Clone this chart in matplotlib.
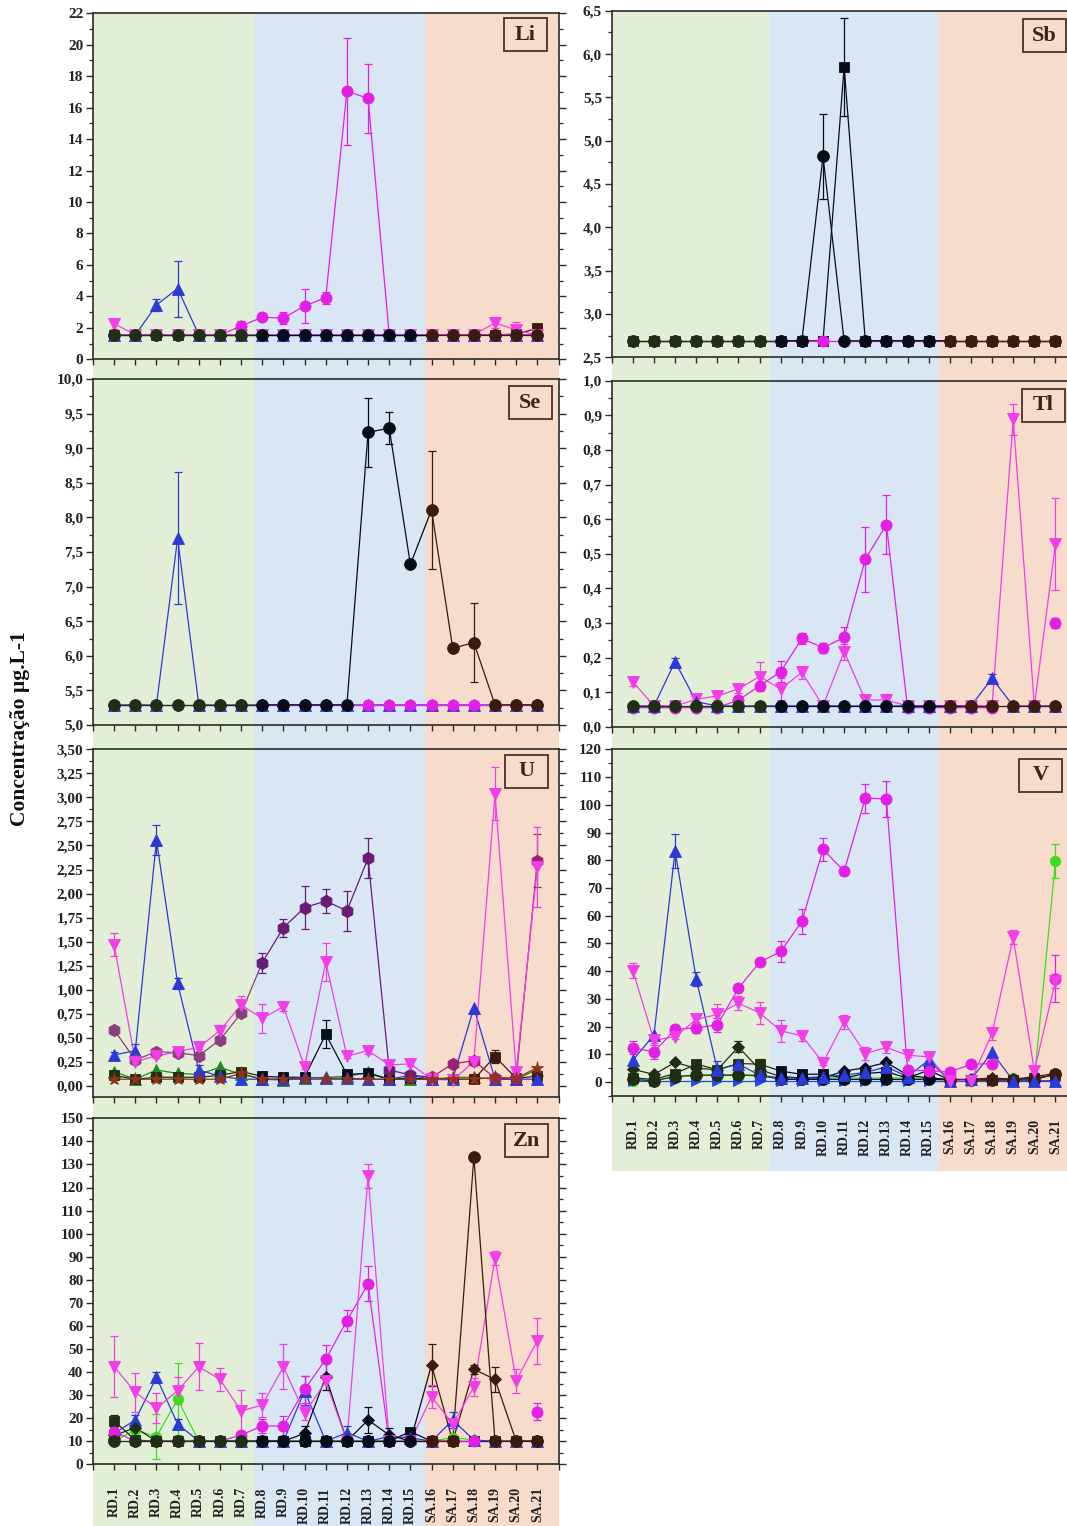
import numpy as np
import matplotlib
matplotlib.use("Agg")
import matplotlib.pyplot as plt
from matplotlib.patches import Rectangle
from matplotlib.ticker import MultipleLocator, AutoMinorLocator, FuncFormatter

plt.rcParams['font.family'] = ['Liberation Serif', 'DejaVu Serif']
plt.rcParams['font.weight'] = 'bold'
plt.rcParams['axes.labelweight'] = 'bold'

nan = np.nan

# ---------------------------------------------------------------- sites
SITES = ['RD.1', 'RD.2', 'RD.3', 'RD.4', 'RD.5', 'RD.6', 'RD.7',
         'RD.8', 'RD.9', 'RD.10', 'RD.11', 'RD.12', 'RD.13', 'RD.14', 'RD.15',
         'SA.16', 'SA.17', 'SA.18', 'SA.19', 'SA.20', 'SA.21']
Y_LABEL = 'Concentração µg.L-1'

# ---------------------------------------------------------------- Li
LI_SQUARE = [1.55, 1.55, 1.55, 1.55, 1.55, 1.55, 1.55, 1.55, 1.55, 1.55, 1.55,
             1.55, 1.55, 1.55, 1.55, 1.55, 1.55, 1.55, 1.55, 1.60, 1.97]
LI_TRI_UP = [1.55, 1.55, 3.45, 4.50, 1.55, 1.55, 1.55, 1.55, 1.55, 1.55, 1.55,
             1.55, 1.55, 1.55, 1.55, 1.55, 1.55, 1.55, 1.55, 1.55, 1.55]
LI_TRI_UP_ERR = [0, 0, 0.36, 1.78, 0, 0, 0, 0, 0, 0, 0,
                 0, 0, 0, 0, 0, 0, 0, 0, 0, 0]
LI_TRI_DOWN = [2.27, 1.55, 1.55, 1.55, 1.55, 1.55, 1.55, 1.55, 1.55, 1.55, 1.55,
               1.55, 1.55, 1.55, 1.55, 1.55, 1.55, 1.55, 2.32, 1.86, 1.55]
LI_TRI_DOWN_ERR = [0.37, 0, 0, 0, 0, 0, 0, 0, 0, 0, 0,
                   0, 0, 0, 0, 0, 0, 0, 0.35, 0.53, 0]
LI_MAG = [1.55, 1.55, 1.55, 1.55, 1.55, 1.55, 2.12, 2.67, 2.63, 3.39, 3.92,
          17.05, 16.59, 1.55, 1.55, 1.55, 1.55, 1.55, 1.55, 1.55, 1.55]
LI_MAG_ERR = [0, 0, 0, 0, 0, 0, 0.34, 0.12, 0.37, 1.06, 0.38,
              3.40, 2.17, 0, 0, 0, 0, 0, 0, 0, 0]
LI_DARK = [1.55, 1.55, 1.55, 1.55, 1.55, 1.55, 1.55, 1.55, 1.55, 1.55, 1.55,
           1.55, 1.55, 1.55, 1.55, 1.55, 1.55, 1.55, 1.55, 1.55, 1.55]

# ---------------------------------------------------------------- Sb
SB_SQUARE = [2.69, 2.69, 2.69, 2.69, 2.69, 2.69, 2.69, 2.69, 2.69, 2.69, 5.85,
             2.69, 2.69, 2.69, 2.69, 2.69, 2.69, 2.69, 2.69, 2.69, 2.69]
SB_SQUARE_ERR = [0, 0, 0, 0, 0, 0, 0, 0, 0, 0, 0.56,
                 0, 0, 0, 0, 0, 0, 0, 0, 0, 0]
SB_MAG = [2.69, 2.69, 2.69, 2.69, 2.69, 2.69, 2.69, 2.69, 2.69, 2.69, 2.69,
          2.69, 2.69, 2.69, 2.69, 2.69, 2.69, 2.69, 2.69, 2.69, 2.69]
SB_DARK = [2.69, 2.69, 2.69, 2.69, 2.69, 2.69, 2.69, 2.69, 2.69, 4.82, 2.69,
           2.69, 2.69, 2.69, 2.69, 2.69, 2.69, 2.69, 2.69, 2.69, 2.69]
SB_DARK_ERR = [0, 0, 0, 0, 0, 0, 0, 0, 0, 0.49, 0,
               0, 0, 0, 0, 0, 0, 0, 0, 0, 0]

# ---------------------------------------------------------------- Se
SE_TRI_UP = [5.29, 5.29, 5.29, 7.70, 5.29, 5.29, 5.29, 5.29, 5.29, 5.29, 5.29,
             5.29, 5.29, 5.29, 5.29, 5.29, 5.29, 5.29, 5.29, 5.29, 5.29]
SE_TRI_UP_ERR = [0, 0, 0, 0.95, 0, 0, 0, 0, 0, 0, 0,
                 0, 0, 0, 0, 0, 0, 0, 0, 0, 0]
SE_MAG = [5.29, 5.29, 5.29, 5.29, 5.29, 5.29, 5.29, 5.29, 5.29, 5.29, 5.29,
          5.29, 5.29, 5.29, 5.29, 5.29, 5.29, 5.29, 5.29, 5.29, 5.29]
SE_DARK = [5.29, 5.29, 5.29, 5.29, 5.29, 5.29, 5.29, 5.29, 5.29, 5.29, 5.29,
           5.29, 9.23, 9.29, 7.32, 8.11, 6.11, 6.19, 5.29, 5.29, 5.29]
SE_DARK_ERR = [0, 0, 0, 0, 0, 0, 0, 0, 0, 0, 0,
               0, 0.50, 0.23, 0, 0.85, 0, 0.57, 0, 0, 0]

# ---------------------------------------------------------------- Tl
TL_TRI_DOWN = [0.130, 0.060, 0.060, 0.079, 0.089, 0.109, 0.145, 0.109, 0.157, 0.060, 0.217,
               0.077, 0.077, 0.060, 0.060, 0.060, 0.060, 0.060, 0.889, 0.060, 0.528]
TL_TRI_DOWN_ERR = [0.012, 0, 0, 0.006, 0.012, 0.012, 0.041, 0.032, 0.018, 0, 0.023,
                   0.016, 0.018, 0, 0, 0, 0, 0, 0.045, 0, 0.134]
TL_MAG = [0.055, 0.055, 0.055, 0.055, 0.055, 0.077, 0.118, 0.159, 0.255, 0.228, 0.258,
          0.484, 0.584, 0.055, 0.055, 0.055, 0.055, 0.055, nan, nan, 0.300]
TL_MAG_ERR = [0, 0, 0, 0, 0, 0.012, 0.012, 0.030, 0.015, 0.015, 0.030,
              0.094, 0.086, 0, 0, 0, 0, 0, nan, nan, 0.015]
TL_TRI_UP = [0.060, 0.060, 0.188, 0.072, 0.060, 0.060, 0.060, 0.060, 0.060, 0.060, 0.060,
             0.060, 0.060, 0.060, 0.060, 0.060, 0.060, 0.140, 0.060, 0.060, 0.060]
TL_TRI_UP_ERR = [0, 0, 0.012, 0, 0, 0, 0, 0, 0, 0, 0,
                 0, 0, 0, 0, 0, 0, 0.013, 0, 0, 0]
TL_DARK = [0.060, 0.060, 0.060, 0.060, 0.060, 0.060, 0.060, 0.060, 0.060, 0.060, 0.060,
           0.060, 0.060, 0.060, 0.060, 0.060, 0.060, 0.060, 0.060, 0.060, 0.060]

# ---------------------------------------------------------------- U
U_GREEN_TRI = [0.149, 0.07, 0.166, 0.13, 0.12, 0.194, 0.12, 0.07, 0.06, 0.08, 0.09,
               0.10, 0.14, 0.07, 0.07, 0.07, 0.09, 0.09, 0.07, 0.07, 0.17]
U_SQUARE = [0.11, 0.07, 0.09, 0.09, 0.09, 0.11, 0.15, 0.10, 0.09, 0.09, 0.537,
            0.12, 0.13, 0.07, 0.08, 0.07, 0.07, 0.07, 0.305, 0.08, 0.10]
U_SQUARE_ERR = [0, 0, 0, 0, 0, 0, 0.02, 0, 0, 0, 0.145,
                0, 0, 0, 0, 0, 0, 0, 0.065, 0, 0]
U_TRI_UP = [0.322, 0.367, 2.557, 1.067, 0.166, 0.10, 0.07, 0.07, 0.07, 0.09, 0.08,
            0.08, 0.07, 0.07, 0.11, 0.07, 0.07, 0.814, 0.07, 0.07, 0.07]
U_TRI_UP_ERR = [0.03, 0.07, 0.155, 0.06, 0.05, 0, 0, 0, 0, 0, 0,
                0, 0, 0, 0, 0, 0, 0, 0, 0, 0]
U_HEX = [0.582, 0.270, 0.357, 0.345, 0.315, 0.478, 0.757, 1.282, 1.646, 1.854, 1.923,
         1.820, 2.367, 0.166, 0.114, 0.090, 0.229, 0.263, 0.080, 0.080, 2.342]
U_HEX_ERR = [0.03, 0.02, 0.03, 0.02, 0.02, 0.02, 0.03, 0.105, 0.093, 0.22, 0.125,
             0.21, 0.208, 0.02, 0.01, 0.01, 0.01, 0.01, 0, 0, 0.275]
U_TRI_DOWN = [1.466, 0.253, 0.312, 0.357, 0.402, 0.575, 0.842, 0.703, 0.824, 0.200, 1.290,
              0.310, 0.367, 0.218, 0.229, 0.070, 0.060, 0.253, 3.036, 0.149, 2.280]
U_TRI_DOWN_ERR = [0.12, 0.02, 0.02, 0.02, 0.02, 0.06, 0.09, 0.153, 0.05, 0.02, 0.20,
                  0.02, 0.03, 0.02, 0.02, 0, 0.03, 0.03, 0.275, 0.01, 0.415]
U_STAR = [0.07, 0.07, 0.07, 0.07, 0.07, 0.07, 0.13, 0.07, 0.07, 0.07, 0.07,
          0.07, 0.07, 0.07, 0.07, 0.07, 0.07, 0.07, 0.09, 0.08, 0.19]

# ---------------------------------------------------------------- V
V_LIME = [0.5, 0.5, 2.0, 2.5, 2.5, 2.8, 2.0, 1.5, 1.5, 1.5, 1.5,
          1.5, 1.5, 1.5, 1.5, 0.8, 0.5, 0.8, 1.5, 1.0, 79.7]
V_LIME_ERR = [0, 0, 0, 0, 0, 0, 0, 0, 0, 0, 0,
              0, 0, 0, 0, 0, 0, 0, 0, 0, 6.0]
V_TRI_RIGHT = [0.5, 0.5, 0.5, 0.5, 0.5, 0.5, 0.5, 0.5, 0.5, 0.5, 0.5,
               0.5, 0.5, 0.5, 0.5, 0.5, 0.5, 0.5, 0.5, 0.5, 0.5]
V_DARK = [1.0, 0.5, 2.0, 2.5, 2.5, 2.5, 2.5, 1.0, 1.0, 1.0, 1.0,
          1.0, 1.0, 1.0, 1.0, 0.8, 0.8, 0.8, 0.8, 0.8, 3.0]
V_SQUARE = [1.5, 1.0, 3.1, 6.5, 4.5, 6.7, 6.5, 4.0, 2.8, 2.9, 1.5,
            3.1, 3.7, 1.5, 4.3, 0.8, 0.8, 0.8, 0.8, 1.5, 2.5]
V_SQUARE_ERR = [0, 0, 0, 0, 0, 0, 2.0, 0, 0, 0, 0,
                0, 0, 0, 0, 0, 0, 0, 0, 0, 0]
V_DIAMOND = [4.6, 2.8, 7.1, 5.0, 4.5, 12.7, 4.5, 2.0, 1.5, 1.5, 4.0,
             5.2, 7.1, 2.5, 1.5, 1.0, 1.0, 1.5, 1.0, 2.0, 3.1]
V_DIAMOND_ERR = [0, 0, 0, 0, 0, 2.0, 0, 0, 0, 0, 0,
                 0, 0, 0, 0, 0, 0, 0, 0, 0, 0]
V_TRI_UP = [7.9, 17.0, 83.4, 37.2, 4.5, 6.5, 2.5, 1.5, 1.5, 2.0, 2.5,
            3.5, 5.5, 2.0, 7.9, 0.5, 1.0, 10.7, 0.5, 0.5, 0.5]
V_TRI_UP_ERR = [0, 0, 6.2, 2.5, 3.0, 0, 0, 0, 0, 0, 0,
                0, 0, 0, 1.5, 0, 0, 0, 0, 0, 0]
V_MAG = [12.4, 10.9, 19.0, 19.6, 20.6, 33.9, 43.2, 47.1, 58.0, 83.9, 76.1,
         102.4, 102.1, 4.3, 4.1, 3.7, 6.4, 6.7, nan, nan, 37.3]
V_MAG_ERR = [2.3, 2.5, 1.5, 2.0, 2.5, 0.8, 1.5, 3.7, 4.6, 4.2, 1.5,
             5.2, 6.6, 0.5, 0.5, 0.5, 0.5, 0.5, nan, nan, 8.5]
V_TRI_DOWN = [40.2, 15.1, 16.4, 22.6, 24.4, 28.4, 25.0, 18.5, 16.7, 7.0, 21.8,
              10.3, 12.5, 9.7, 9.1, 0.5, 0.5, 17.6, 52.2, 4.1, 36.5]
V_TRI_DOWN_ERR = [2.8, 1.0, 1.0, 1.5, 3.9, 2.5, 4.0, 4.0, 2.0, 1.0, 2.5,
                  2.2, 2.0, 0.5, 1.5, 0, 0, 2.4, 2.5, 0.5, 2.5]

# ---------------------------------------------------------------- Zn
ZN_LIME = [10, 14.9, 12.0, 28.2, 10, 10, 10, 10, 10, 10, 10,
           10, 10, 10, 10, 10, 11.6, 10.5, 10, 10, 10]
ZN_LIME_ERR = [0, 0, 9.8, 15.5, 0, 0, 0, 0, 0, 0, 0,
               0, 0, 0, 0, 0, 0, 0, 0, 0, 0]
ZN_SQUARE = [18.8, 10.5, 10, 10, 10, 10, 10, 10, 10, 10, 10,
             10, 10, 10, 14.2, 10, 10, 10, 10, 10, 10]
ZN_SQUARE_ERR = [2.5, 0, 0, 0, 0, 0, 0, 0, 0, 0, 0,
                 0, 0, 0, 0, 0, 0, 0, 0, 0, 0]
ZN_TRI_UP = [13.4, 19.2, 37.7, 17.5, 10, 10, 10, 10, 10, 31.9, 10,
             13.7, 10, 12.0, 11.5, 10, 19.2, 10.5, 10, 10, 10]
ZN_TRI_UP_ERR = [0, 2.0, 2.5, 2.0, 0, 0, 0, 0, 0, 6.4, 0,
                 3.0, 0, 0, 0, 0, 3.6, 1.5, 0, 0, 0]
ZN_DIAMOND = [12.5, 15.9, 10, 10, 10, 10, 10, 10, 10, 13.4, 38.0,
              10, 19.2, 12.7, 10, 43.1, 10, 41.2, 36.8, 10, 10]
ZN_DIAMOND_ERR = [0, 0, 0, 0, 0, 0, 0, 0, 0, 3.0, 6.0,
                  0, 5.5, 3.0, 0, 9.0, 0, 2.0, 5.5, 0, 0]
ZN_MAG = [14.2, 10, 10, 10, 10, 10, 12.7, 16.6, 16.6, 32.5, 45.5,
          62.3, 78.2, 10, 10, 10, 10, 10, nan, nan, 22.8]
ZN_MAG_ERR = [2.5, 0, 0, 0, 0, 0, 1.0, 3.0, 4.2, 5.8, 6.3,
              4.6, 7.6, 0, 0, 0, 0, 0, nan, nan, 3.6]
ZN_TRI_DOWN = [42.3, 31.2, 24.3, 31.9, 42.3, 36.8, 23.1, 25.7, 42.3, 22.1, 36.0,
               10, 125.1, 10, 10, 29.3, 17.5, 33.4, 89.3, 36.3, 53.6]
ZN_TRI_DOWN_ERR = [13.2, 8.5, 6.5, 5.8, 10.1, 5.0, 9.0, 5.0, 9.8, 3.0, 0,
                   0, 5.2, 0, 0, 5.0, 0, 4.0, 3.0, 5.2, 10.0]
ZN_DARK = [10, 10, 10, 10, 10, 10, 10, 10, 10, 10, 10,
           10, 10, 10, 10, 10, 10, 133.1, 10, 10, 10]

# ---------------------------------------------------------------- styles
REGION_IDX = [(0, 7), (7, 15), (15, 21)]
REGION_DARK = ['#1f2f15', '#060d19', '#3b1b0d']
BAND_COLORS = ['#e2efd6', '#d9e7f4', '#f7dccb']

STYLE = {
    'dark':      dict(marker='o', ms=8.5, regional=REGION_DARK),
    'square':    dict(marker='s', ms=7.0, regional=REGION_DARK),
    'diamond':   dict(marker='D', ms=6.5, regional=REGION_DARK),
    'hex':       dict(marker='h', ms=9.0, regional=['#8c3f7e', '#681c76', '#9b2373']),
    'tri_up':    dict(marker='^', ms=8.0, color='#2a3ad6'),
    'tri_down':  dict(marker='v', ms=8.5, color='#f23de8'),
    'mag':       dict(marker='o', ms=8.0, color='#e31fe6'),
    'lime':      dict(marker='o', ms=7.5, color='#3ddc22'),
    'green_tri': dict(marker='^', ms=8.0, color='#1f8a1f'),
    'star':      dict(marker='*', ms=9.5, color='#92301a'),
    'tri_right': dict(marker='>', ms=7.0, color='#2048f0'),
}
LW = 0.9
x = np.arange(1, len(SITES) + 1)

W, H, DPI = 1067, 1526, 100
fig = plt.figure(figsize=(W / DPI, H / DPI), dpi=DPI)
fig.patch.set_facecolor('white')

COLS = {0: dict(left=93.0, right=558.5, top=13.0, bottom=1526.0, bands=[0, 7.6, 15.7, 22]),
        1: dict(left=611.7, right=1076.6, top=10.7, bottom=1171.0, bands=[0, 7.5, 15.5, 22])}


def fig_rect(left, right, top, bottom):
    return [left / W, 1 - bottom / H, (right - left) / W, (bottom - top) / H]


# coloured site groups behind each column of panels
for c in COLS.values():
    bg = fig.add_axes(fig_rect(c['left'], c['right'], c['top'], c['bottom']))
    bg.set_zorder(0)
    bg.set_xlim(0, 22)
    bg.set_ylim(0, 1)
    b = c['bands']
    for i in range(3):
        bg.axvspan(b[i], b[i + 1], color=BAND_COLORS[i], lw=0)
    bg.axis('off')


def draw_series(ax, kind, vals, errs=None, z=2.0):
    st = STYLE[kind]
    y = np.asarray(vals, float)
    e = None
    if errs is not None:
        e = np.asarray(errs, float)
        e = np.where(e > 0, e, np.nan)
    ebkw = dict(fmt='none', capsize=3.2, elinewidth=0.9, capthick=0.9)
    if 'regional' in st:
        for r, (a, b) in enumerate(REGION_IDX):
            col = st['regional'][r]
            stop = min(b + 1, len(y))
            ax.plot(x[a:stop], y[a:stop], color=col, lw=LW, zorder=z)
            if e is not None:
                ax.errorbar(x[a:b], y[a:b], yerr=e[a:b], ecolor=col, zorder=z + 0.1, **ebkw)
            ax.plot(x[a:b], y[a:b], ls='none', marker=st['marker'], ms=st['ms'],
                    mfc=col, mec=col, mew=0.6, zorder=z + 0.2)
    else:
        col = st['color']
        ax.plot(x, y, color=col, lw=LW, zorder=z)
        if e is not None:
            ax.errorbar(x, y, yerr=e, ecolor=col, zorder=z + 0.1, **ebkw)
        ax.plot(x, y, ls='none', marker=st['marker'], ms=st['ms'],
                mfc=col, mec=col, mew=0.6, zorder=z + 0.2)


PANELS = [
    dict(name='Li', col=0, top=13.3, bottom=359.3, ylim=(0, 22), step=2, dec=0, box=(11.5, 4.7),
         series=[('square', LI_SQUARE, None), ('tri_up', LI_TRI_UP, LI_TRI_UP_ERR),
                 ('tri_down', LI_TRI_DOWN, LI_TRI_DOWN_ERR), ('mag', LI_MAG, LI_MAG_ERR),
                 ('dark', LI_DARK, None)]),
    dict(name='Se', col=0, top=379.0, bottom=725.0, ylim=(5, 10), step=0.5, dec=1, box=(6.7, 7.0),
         series=[('tri_up', SE_TRI_UP, SE_TRI_UP_ERR), ('mag', SE_MAG, None),
                 ('dark', SE_DARK, SE_DARK_ERR)]),
    dict(name='U', col=0, top=749.3, bottom=1097.0, ylim=(-0.115, 3.5), step=0.25, dec=2, box=(10.5, 5.7),
         series=[('green_tri', U_GREEN_TRI, None), ('square', U_SQUARE, U_SQUARE_ERR),
                 ('tri_up', U_TRI_UP, U_TRI_UP_ERR), ('hex', U_HEX, U_HEX_ERR),
                 ('tri_down', U_TRI_DOWN, U_TRI_DOWN_ERR), ('star', U_STAR, None)]),
    dict(name='Zn', col=0, top=1118.3, bottom=1464.3, ylim=(0, 150), step=10, dec=0, box=(10.5, 5.7),
         labels=True,
         series=[('lime', ZN_LIME, ZN_LIME_ERR), ('square', ZN_SQUARE, ZN_SQUARE_ERR),
                 ('tri_up', ZN_TRI_UP, ZN_TRI_UP_ERR), ('diamond', ZN_DIAMOND, ZN_DIAMOND_ERR),
                 ('mag', ZN_MAG, ZN_MAG_ERR), ('tri_down', ZN_TRI_DOWN, ZN_TRI_DOWN_ERR),
                 ('dark', ZN_DARK, None)]),
    dict(name='Sb', col=1, top=10.7, bottom=357.3, ylim=(2.5, 6.5), step=0.5, dec=1, box=(10.6, 8.3),
         series=[('square', SB_SQUARE, SB_SQUARE_ERR), ('mag', SB_MAG, None),
                 ('dark', SB_DARK, SB_DARK_ERR)]),
    dict(name='Tl', col=1, top=380.7, bottom=726.7, ylim=(0, 1), step=0.1, dec=1, box=(11.6, 8.3),
         series=[('tri_down', TL_TRI_DOWN, TL_TRI_DOWN_ERR), ('mag', TL_MAG, TL_MAG_ERR),
                 ('tri_up', TL_TRI_UP, TL_TRI_UP_ERR), ('dark', TL_DARK, None)]),
    dict(name='V', col=1, top=749.3, bottom=1096.0, ylim=(-5, 120), step=10, dec=0, box=(14.6, 9.7),
         labels=True,
         series=[('lime', V_LIME, V_LIME_ERR), ('tri_right', V_TRI_RIGHT, None),
                 ('dark', V_DARK, None), ('square', V_SQUARE, V_SQUARE_ERR),
                 ('diamond', V_DIAMOND, V_DIAMOND_ERR), ('tri_up', V_TRI_UP, V_TRI_UP_ERR),
                 ('mag', V_MAG, V_MAG_ERR), ('tri_down', V_TRI_DOWN, V_TRI_DOWN_ERR)]),
]

SPINE = '#2b2b2b'
BOX_W, BOX_H = 43.0, 33.0

for p in PANELS:
    c = COLS[p['col']]
    ax = fig.add_axes(fig_rect(c['left'], c['right'], p['top'], p['bottom']))
    ax.set_zorder(1)
    ax.patch.set_alpha(0)
    ax.set_xlim(0, 22)
    ax.set_ylim(*p['ylim'])

    for kind, vals, errs in p['series']:
        draw_series(ax, kind, vals, errs)

    for s in ax.spines.values():
        s.set_color(SPINE)
        s.set_linewidth(1.2)

    ax.yaxis.set_major_locator(MultipleLocator(p['step']))
    ax.yaxis.set_minor_locator(AutoMinorLocator(2))
    d = p['dec']
    ax.yaxis.set_major_formatter(FuncFormatter(lambda v, pos, d=d: f'{v:.{d}f}'.replace('.', ',')))
    ax.set_xticks(np.arange(0, 23))
    ax.xaxis.set_minor_locator(plt.NullLocator())
    if p.get('labels'):
        ax.set_xticklabels([''] + SITES + [''], rotation=90, fontsize=10, fontweight='bold',
                           color='#222222')
    else:
        ax.set_xticklabels([])
    ax.tick_params(axis='x', which='major', direction='out', length=4.5, width=1.0,
                   color=SPINE, pad=12, top=False)
    ax.tick_params(axis='y', which='major', direction='out', length=5, width=1.0,
                   color=SPINE, labelsize=11, pad=2, right=True)
    ax.tick_params(axis='y', which='minor', direction='out', length=3, width=0.9,
                   color=SPINE, right=True)
    for lab in ax.get_yticklabels():
        lab.set_fontweight('bold')
        lab.set_color('#222222')

    # element tag in the upper right corner
    wpx = c['right'] - c['left']
    hpx = p['bottom'] - p['top']
    dx, dy = p['box']
    bx = (wpx - dx - BOX_W) / wpx
    by = (hpx - dy - BOX_H) / hpx
    ax.add_patch(Rectangle((bx, by), BOX_W / wpx, BOX_H / hpx, transform=ax.transAxes,
                           fill=False, ec='#4a3324', lw=1.3, zorder=5, clip_on=False))
    ax.text(bx + BOX_W / wpx / 2, by + BOX_H / hpx / 2, p['name'], transform=ax.transAxes,
            ha='center', va='center', fontsize=16, fontweight='bold', color='#3a2416', zorder=6)

fig.text(20 / W, 1 - 729 / H, Y_LABEL, rotation=90, ha='center', va='center',
         fontsize=15.5, fontweight='bold', color='#111111')

fig.savefig('out.png', dpi=DPI)
